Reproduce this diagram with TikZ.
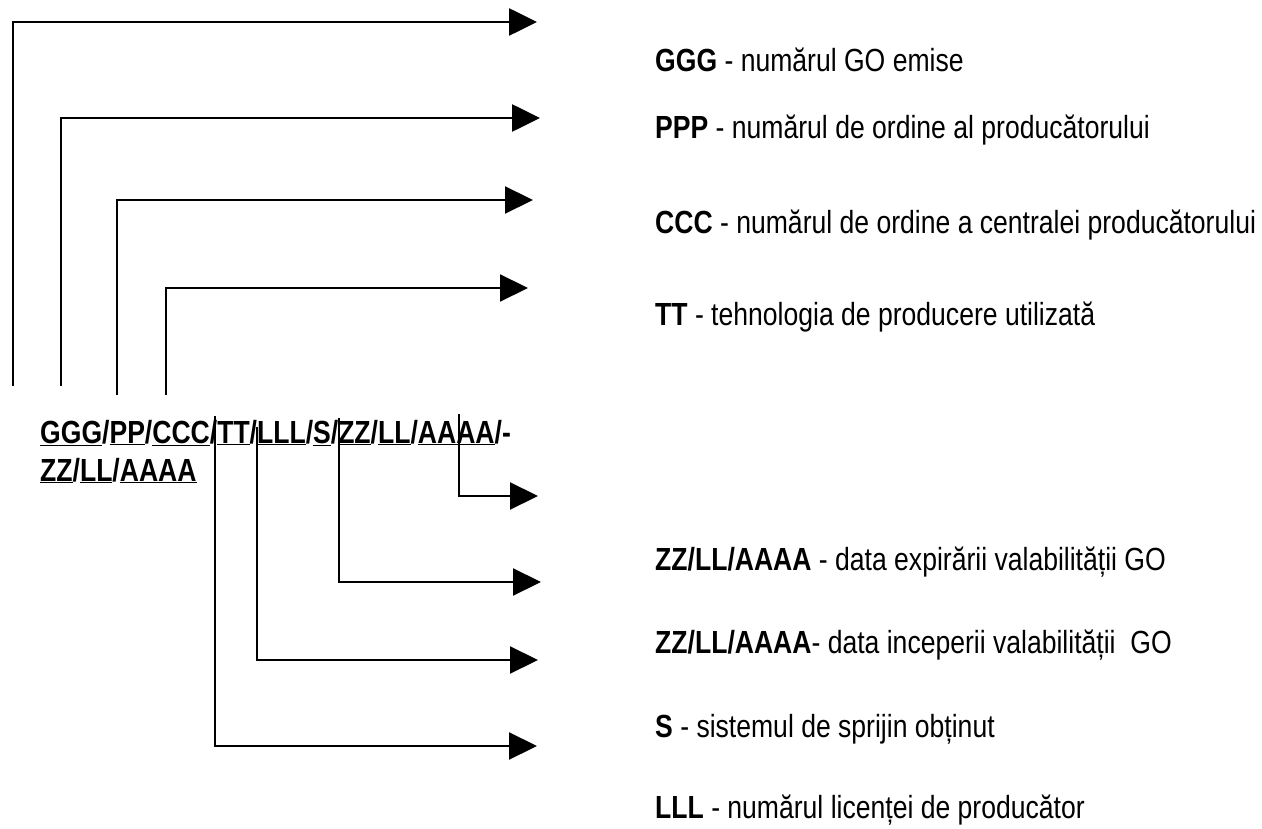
\documentclass[tikz,border=0pt]{standalone}
\usepackage{fontspec}
\setmainfont[FakeStretch=0.83]{Liberation Sans}
\usetikzlibrary{arrows.meta}
\begin{document}
\begin{tikzpicture}[x=1pt,y=-1pt,
  conn/.style={line width=2.2pt, line join=miter, -{Triangle[length=28pt,width=27pt]}},
  thick conn/.style={conn, line width=2.7pt},
  txt/.style={anchor=base west, inner sep=0pt, font=\fontsize{32}{38}\selectfont}]
\useasboundingbox (0,0) rectangle (1262,829);
% code text
\node[txt] (code1) at (40,443) {\textbf{\underline{GGG}/\underline{PP}/\underline{CCC}/\underline{TT}/\underline{LLL}/\underline{S}/\underline{ZZ}/\underline{LL}/\underline{AAAA}/-}};
\node[txt] (code2) at (40,481) {\textbf{\underline{ZZ}/\underline{LL}/\underline{AAAA}}};
% labels
\node[txt] (lg) at (655,72)  {\textbf{GGG} - numărul GO emise};
\node[txt] (lp) at (655,139) {\textbf{PPP} - numărul de ordine al producătorului};
\node[txt] (lc) at (655,234) {\textbf{CCC} - numărul de ordine a centralei producătorului};
\node[txt] (lt) at (655,326) {\textbf{TT} - tehnologia de producere utilizată};
\node[txt] (lz1) at (655,570) {\textbf{ZZ/LL/AAAA} - data expirării valabilității GO};
\node[txt] (lz2) at (655,653) {\textbf{ZZ/LL/AAAA}- data inceperii valabilității\ \ GO};
\node[txt] (ls) at (655,737) {\textbf{S} - sistemul de sprijin obținut};
\node[txt] (ll) at (655,818) {\textbf{LLL} - numărul licenței de producător};
% connector coordinates
\coordinate (a1s) at (13,386);  \coordinate (a1e) at (537,22);
\coordinate (a2s) at (61,386);  \coordinate (a2e) at (540,118);
\coordinate (a3s) at (117,395); \coordinate (a3e) at (533,200);
\coordinate (a4s) at (166,395); \coordinate (a4e) at (528,288);
\coordinate (b1s) at (459,414); \coordinate (b1e) at (538,496);
\coordinate (b2s) at (339,418); \coordinate (b2e) at (541,582);
\coordinate (b3s) at (257,427); \coordinate (b3e) at (538,660);
\coordinate (b4s) at (215,416); \coordinate (b4e) at (537,746);
\draw[thick conn] (a1s) |- (a1e);
\draw[thick conn] (a2s) |- (a2e);
\draw[conn] (a3s) |- (a3e);
\draw[conn] (a4s) |- (a4e);
\draw[conn] (b1s) |- (b1e);
\draw[conn] (b2s) |- (b2e);
\draw[conn] (b3s) |- (b3e);
\draw[conn] (b4s) |- (b4e);
\end{tikzpicture}
\end{document}
